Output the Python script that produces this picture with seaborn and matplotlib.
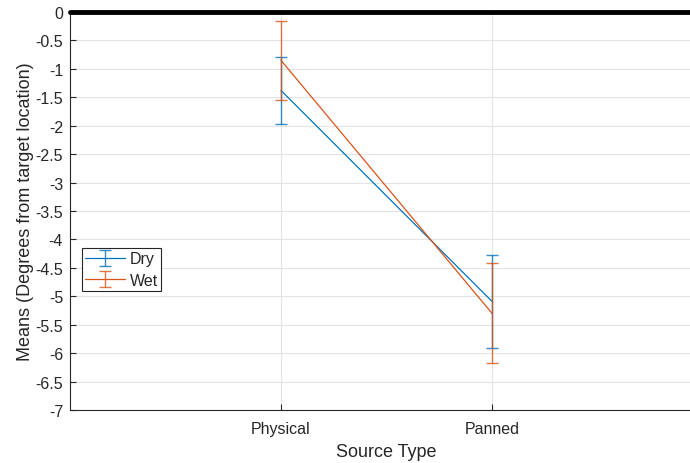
import numpy as np
import pandas as pd
import matplotlib
matplotlib.use("Agg")
import matplotlib.pyplot as plt
from matplotlib.legend_handler import HandlerTuple
import seaborn as sns

# Mean localisation error per source type, with error-bar half-widths
source_types = ["Physical", "Panned"]
dry_means = [-1.38, -5.09]
dry_err = [0.59, 0.82]
wet_means = [-0.85, -5.30]
wet_err = [0.70, 0.88]
conditions = ["Dry", "Wet"]
y_ticks = [0, -0.5, -1, -1.5, -2, -2.5, -3, -3.5, -4, -4.5, -5, -5.5, -6, -6.5, -7]

colors = {"Dry": "#0072BD", "Wet": "#D95319"}

df = pd.DataFrame({
    "Source Type": source_types * 2,
    "x": [1, 2] * 2,
    "Mean": dry_means + wet_means,
    "Err": dry_err + wet_err,
    "Condition": ["Dry"] * 2 + ["Wet"] * 2,
})

sns.set_theme(style="whitegrid")
plt.rcParams["font.family"] = ["Liberation Sans", "DejaVu Sans"]

fig = plt.figure(figsize=(6.9, 4.64), dpi=100)
ax = fig.add_axes([70 / 690, 53 / 464, 633 / 690, 398 / 464])

sns.lineplot(data=df, x="x", y="Mean", hue="Condition", palette=colors,
             linewidth=0.9, legend=False, ax=ax, sort=False)

handles = []
for i, cond in enumerate(conditions):
    sub = df[df["Condition"] == cond]
    eb = ax.errorbar(sub["x"], sub["Mean"], yerr=sub["Err"], fmt="none",
                     ecolor=colors[cond], elinewidth=1.0, capsize=4.5,
                     capthick=1.0, alpha=0.8, zorder=3 + i)
    handles.append((ax.get_lines()[i], eb))

ax.axhline(0, color="black", linewidth=3.5, clip_on=False, zorder=6)

ax.set_xlim(0, 3)
ax.set_ylim(-7, 0)
ax.set_xticks([1, 2])
ax.set_xticklabels(source_types)
ax.set_yticks(y_ticks)
ax.set_yticklabels([f"{t:g}" for t in y_ticks])

ax.grid(True, color="#e3e3e3", linewidth=0.8)
ax.set_facecolor("white")
for side in ["left", "bottom"]:
    ax.spines[side].set_color("#262626")
    ax.spines[side].set_linewidth(0.8)
ax.spines["right"].set_visible(False)
ax.spines["top"].set_visible(False)

ax.tick_params(axis="both", direction="in", length=4, width=0.8,
               color="#262626", labelsize=11.5, labelcolor="#262626",
               left=True, bottom=True)
ax.tick_params(axis="x", pad=8)
ax.tick_params(axis="y", pad=5)

ax.set_xlabel("Source Type", fontsize=13, color="#262626", labelpad=5)
ax.set_ylabel("Means (Degrees from target location)", fontsize=13,
              color="#262626", labelpad=1)

leg = ax.legend(handles, conditions, loc="lower left",
                bbox_to_anchor=(0.019, 0.299), fontsize=11.5,
                handler_map={tuple: HandlerTuple(ndivide=1)},
                frameon=True, fancybox=False, borderpad=0.2,
                handlelength=2.5, handletextpad=0.3, labelspacing=0.4,
                borderaxespad=0)
leg.get_frame().set_edgecolor("#262626")
leg.get_frame().set_linewidth(0.8)
leg.get_frame().set_alpha(1)

fig.savefig("out.png", dpi=100)
